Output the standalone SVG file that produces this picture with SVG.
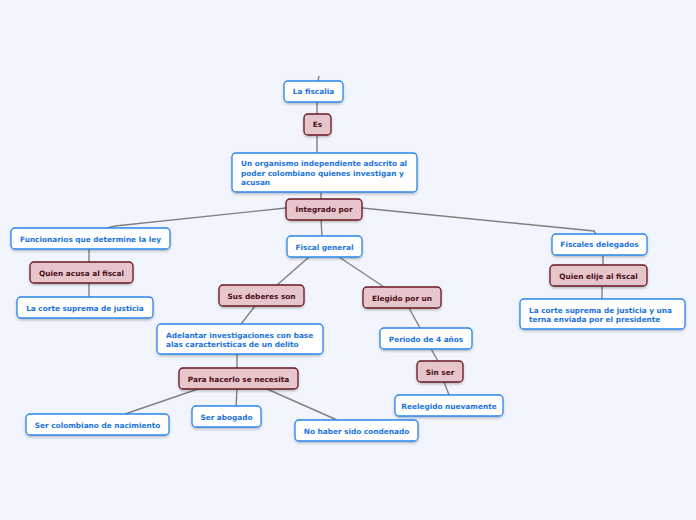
<svg xmlns="http://www.w3.org/2000/svg" width="696" height="520" viewBox="0 0 696 520">
<defs>
<filter id="sh" x="-10%" y="-20%" width="120%" height="160%">
<feDropShadow dx="0" dy="1.5" stdDeviation="1" flood-color="#000" flood-opacity="0.25"/>
</filter>
</defs>
<style>
.b rect{fill:#fff;stroke:#2a86ea;stroke-width:1.3;filter:url(#sh)}
.p rect{fill:#e6c6ca;stroke:#6a1824;stroke-width:1.3;filter:url(#sh)}
text{font-family:"DejaVu Sans",Verdana,sans-serif;font-weight:bold;font-size:7.35px}
.b text{fill:#1b74dc}
.p text{fill:#4a0c17}
.c{text-anchor:middle}
#connectors path{fill:none;stroke:#808080;stroke-width:1.4}
</style>
<rect width="696" height="520" fill="#f2f5fd"/>
<g id="connectors">
<path d="M319,76 L318,81"/>
<path d="M317,102 L317,114"/>
<path d="M317,135 L317,153"/>
<path d="M321,192 L321,199"/>
<path d="M286,208 L115,226 L107,228"/>
<path d="M321,220 L322,236"/>
<path d="M362,208 L594,231 L596,234"/>
<path d="M89,249 L89,262"/>
<path d="M89,283 L89,297"/>
<path d="M603,255 L603,265"/>
<path d="M602,286 L602,299"/>
<path d="M309,257 L277,285"/>
<path d="M339,257 L384,287"/>
<path d="M255,306 L241,324"/>
<path d="M409,308 L420,328"/>
<path d="M237,354 L237,368"/>
<path d="M198,389 L125,414"/>
<path d="M237,389 L236,406"/>
<path d="M267,389 L337,420"/>
<path d="M431,349 L438,361"/>
<path d="M444,382 L449,395"/>
</g>
<g id="n1" class="b"><rect x="284" y="81" width="59" height="21" rx="4"/><text class="c" x="313.5" y="94">La fiscalia</text></g>
<g id="n2" class="p"><rect x="304" y="114" width="27" height="21" rx="4"/><text class="c" x="317.5" y="127">Es</text></g>
<g id="n3" class="b"><rect x="232" y="153" width="185" height="39" rx="4"/><text x="241" y="166">Un organismo independiente adscrito al</text><text x="241" y="175.5">poder colombiano quienes investigan y</text><text x="241" y="185">acusan</text></g>
<g id="n4" class="p"><rect x="286" y="199" width="76" height="21" rx="4"/><text class="c" x="324" y="212">Integrado por</text></g>
<g id="n5" class="b"><rect x="11" y="228" width="159" height="21" rx="4"/><text class="c" x="90.5" y="241.5">Funcionarios que determine la ley</text></g>
<g id="n6" class="p"><rect x="30" y="262" width="103" height="21" rx="4"/><text class="c" x="81.5" y="275.5">Quien acusa al fiscal</text></g>
<g id="n7" class="b"><rect x="17" y="297" width="136" height="21" rx="4"/><text class="c" x="85" y="310.5">La corte suprema de justicia</text></g>
<g id="n8" class="b"><rect x="287" y="236" width="75" height="21" rx="4"/><text class="c" x="324.5" y="249.5">Fiscal general</text></g>
<g id="n9" class="b"><rect x="552" y="234" width="95" height="21" rx="4"/><text class="c" x="599.5" y="247">Fiscales delegados</text></g>
<g id="n10" class="p"><rect x="550" y="265" width="97" height="21" rx="4"/><text class="c" x="598.5" y="278.5">Quien elije al fiscal</text></g>
<g id="n11" class="b"><rect x="520" y="299" width="165" height="30" rx="4"/><text x="529" y="312.5">La corte suprema de justicia y una</text><text x="529" y="322">terna enviada por el presidente</text></g>
<g id="n12" class="p"><rect x="219" y="285" width="85" height="21" rx="4"/><text class="c" x="261.5" y="298.5">Sus deberes son</text></g>
<g id="n13" class="p"><rect x="363" y="287" width="78" height="21" rx="4"/><text class="c" x="402" y="300.5">Elegido por un</text></g>
<g id="n14" class="b"><rect x="157" y="324" width="166" height="30" rx="4"/><text x="166" y="338">Adelantar investigaciones con base</text><text x="166" y="347">alas caracteristicas de un delito</text></g>
<g id="n15" class="p"><rect x="179" y="368" width="119" height="21" rx="4"/><text class="c" x="238.5" y="381.5">Para hacerlo se necesita</text></g>
<g id="n16" class="b"><rect x="380" y="328" width="92" height="21" rx="4"/><text class="c" x="426" y="341.5">Periodo de 4 años</text></g>
<g id="n17" class="p"><rect x="417" y="361" width="46" height="21" rx="4"/><text class="c" x="440" y="374.5">Sin ser</text></g>
<g id="n18" class="b"><rect x="395" y="395" width="108" height="21" rx="4"/><text class="c" x="449" y="408.5">Reelegido nuevamente</text></g>
<g id="n19" class="b"><rect x="26" y="414" width="143" height="21" rx="4"/><text class="c" x="97.5" y="427.5">Ser colombiano de nacimiento</text></g>
<g id="n20" class="b"><rect x="192" y="406" width="69" height="21" rx="4"/><text class="c" x="226.5" y="419.5">Ser abogado</text></g>
<g id="n21" class="b"><rect x="295" y="420" width="123" height="21" rx="4"/><text class="c" x="356.5" y="433.5">No haber sido condenado</text></g>
</svg>
